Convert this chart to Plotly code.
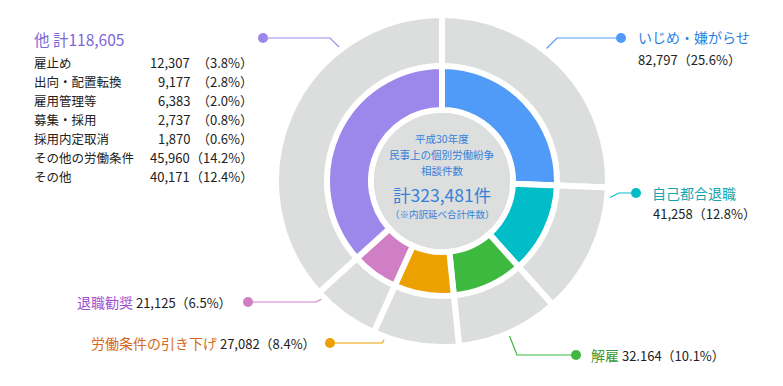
import plotly.graph_objects as go

W, H = 783, 386

# ---- data ----
categories = ["いじめ・嫌がらせ", "自己都合退職", "解雇", "労働条件の引き下げ", "退職勧奨", "他"]
counts = [82797, 41258, 32164, 27082, 21125, 118605]
count_labels = ["82,797", "41,258", "32.164", "27,082", "21,125", "118,605"]
pct_labels = ["25.6%", "12.8%", "10.1%", "8.4%", "6.5%", ""]

other_items = ["雇止め", "出向・配置転換", "雇用管理等", "募集・採用", "採用内定取消", "その他の労働条件", "その他"]
other_counts = ["12,307", "9,177", "6,383", "2,737", "1,870", "45,960", "40,171"]
other_pcts = ["3.8%", "2.8%", "2.0%", "0.8%", "0.6%", "14.2%", "12.4%"]

center_lines = ["平成30年度", "民事上の個別労働紛争", "相談件数"]
total_label = "計323,481件"
note_label = "（※内訳延べ合計件数）"

# ---- styles ----
colors = ["#509BF8", "#00BDC8", "#3DB93F", "#EDA100", "#D17FC5", "#9B88EA"]
text_colors = ["#2D7FE0", "#16A7B2", "#3C9C3C", "#D5691C", "#A052CE", "#7C68D8"]
GRAY = "#DCDDDD"
DARK = "#222222"
CENTER_BLUE = "#3481DA"
FONT = "Noto Sans CJK JP"

cx, cy = 442, 181


def dom(r):
    return dict(x=[(cx - r) / W, (cx + r) / W], y=[(H - cy - r) / H, (H - cy + r) / H])


fig = go.Figure()

# leader lines + dots (decoration, pixel coordinates)
leaders = [
    ([621, 557, 543], [38, 38, 52]),
    ([636, 619, 603], [193, 193, 201]),
    ([576, 517, 508], [355, 355, 332]),
    ([330, 382, 388], [343, 343, 334]),
    ([248, 316, 328], [302, 302, 296]),
    ([263, 330, 343], [38, 38, 51]),
]
for (xs, ys), c in zip(leaders, colors):
    fig.add_trace(go.Scatter(x=xs, y=ys, mode="lines", line=dict(color=c, width=1.2),
                             hoverinfo="skip", showlegend=False))
    fig.add_trace(go.Scatter(x=[xs[0]], y=[ys[0]], mode="markers",
                             marker=dict(color=c, size=10), hoverinfo="skip", showlegend=False))

# outer gray ring
fig.add_trace(go.Pie(values=counts, labels=categories, sort=False, direction="clockwise", rotation=0,
                     marker=dict(colors=[GRAY] * len(counts), line=dict(color="white", width=6)),
                     textinfo="none", hoverinfo="skip", domain=dom(166), showlegend=False))
# inner colored ring
fig.add_trace(go.Pie(values=counts, labels=categories, sort=False, direction="clockwise", rotation=0,
                     hole=71 / 115,
                     marker=dict(colors=colors, line=dict(color="white", width=6)),
                     textinfo="none", hoverinfo="label+value", domain=dom(115), showlegend=False))
# center disk
fig.add_trace(go.Pie(values=[1], labels=["total"], sort=False,
                     marker=dict(colors=["#DDDEDE"], line=dict(color="white", width=0)),
                     textinfo="none", hoverinfo="skip", domain=dom(68), showlegend=False))

ann = []


def add(x, y, text, size, color, anchor="left"):
    ann.append(dict(x=x, y=y, xref="x", yref="y", text=text, showarrow=False,
                    xanchor=anchor, yanchor="middle",
                    font=dict(family=FONT, size=size, color=color)))


# left "other" panel
add(32, 39, f"{categories[5]} 計{count_labels[5]}", 15.5, text_colors[5])
row_y = [62, 81, 100, 119, 138, 157, 176]
for yy, name, cnt, pct in zip(row_y, other_items, other_counts, other_pcts):
    add(32, yy, name, 12.5, DARK)
    add(192, yy, cnt, 13, DARK, "right")
    add(255, yy, f"（{pct}）", 13, DARK, "right")

# right labels
add(636, 37, categories[0], 14, text_colors[0])
add(636, 59, f"{count_labels[0]}（{pct_labels[0]}）", 13, DARK)
add(650, 193, categories[1], 14, text_colors[1])
add(651, 213, f"{count_labels[1]}（{pct_labels[1]}）", 13, DARK)
add(589, 355, f"<span style='color:{text_colors[2]};font-size:14px'>{categories[2]}</span> "
              f"{count_labels[2]}（{pct_labels[2]}）", 13, DARK)
# left-bottom labels
add(318, 343, f"<span style='color:{text_colors[3]};font-size:14px'>{categories[3]}</span> "
              f"{count_labels[3]}（{pct_labels[3]}）", 13, DARK, "right")
add(234, 302, f"<span style='color:{text_colors[4]};font-size:14px'>{categories[4]}</span> "
              f"{count_labels[4]}（{pct_labels[4]}）", 13, DARK, "right")

# center text
for yy, t in zip([138, 154, 170], center_lines):
    add(cx, yy, t, 10.5, CENTER_BLUE, "center")
add(cx, 194, total_label, 17.5, CENTER_BLUE, "center")
add(cx, 214, note_label, 9.5, CENTER_BLUE, "center")

fig.update_layout(
    width=W, height=H, margin=dict(l=0, r=0, t=0, b=0),
    paper_bgcolor="white", plot_bgcolor="white",
    xaxis=dict(range=[0, W], visible=False, fixedrange=True, domain=[0, 1]),
    yaxis=dict(range=[H, 0], visible=False, fixedrange=True, domain=[0, 1]),
    annotations=ann, font=dict(family=FONT),
)

fig.write_html("out.html")
